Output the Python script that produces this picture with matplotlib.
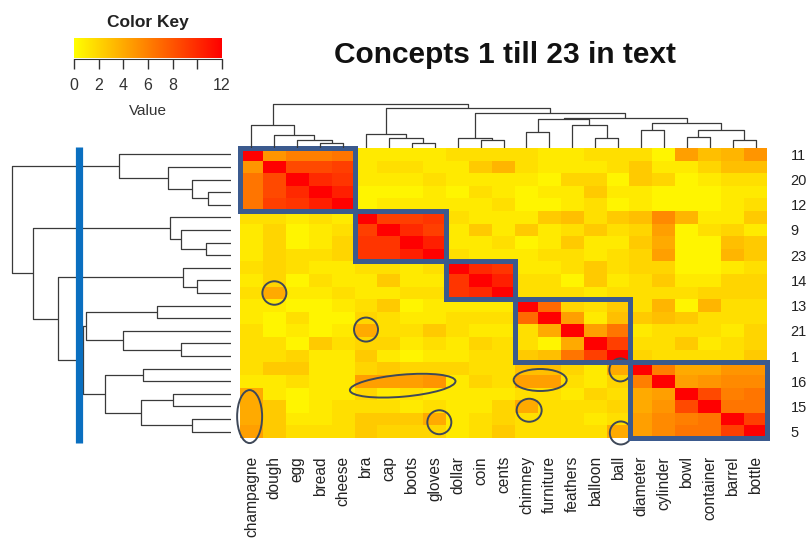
import numpy as np
import matplotlib
matplotlib.use("Agg")
import matplotlib.pyplot as plt
from matplotlib.colors import LinearSegmentedColormap
from matplotlib.patches import Ellipse, Rectangle
from matplotlib import transforms

plt.rcParams['font.family'] = ['Liberation Sans', 'DejaVu Sans']

# column concepts, in dendrogram order
concepts = ["champagne", "dough", "egg", "bread", "cheese",
            "bra", "cap", "boots", "gloves",
            "dollar", "coin", "cents",
            "chimney", "furniture", "feathers", "balloon", "ball",
            "diameter", "cylinder", "bowl", "container", "barrel", "bottle"]

# row labels are only printed on every other row
row_labels = ["11", "20", "12", "9", "23", "14", "13", "21", "1", "16", "15", "5"]

block_sizes = [5, 4, 3, 5, 6]

values = np.array([
    [12, 5, 6, 6, 6.5, 1, 1, 1, 1, 1.5, 1.5, 1.5, 1.5, 1, 1, 1.5, 1.5, 1.5, 0.5, 4.5, 3, 3.5, 5],
    [5, 12, 8.5, 8.5, 9, 1, 1.5, 1.5, 1, 1, 2.5, 3.5, 1.5, 1, 1, 1, 1.5, 2.5, 1, 1, 2, 3, 3],
    [6.5, 8.5, 12, 10, 9.5, 1, 1, 1, 1.5, 1, 1, 1, 1, 0.5, 2, 2, 0.5, 2.5, 2, 0.5, 1, 1.5, 1.5],
    [6.5, 8.5, 10, 12, 10.5, 0.5, 0.5, 0.5, 1, 0.5, 1.5, 1, 0.5, 1, 1, 2.5, 1, 1, 0.5, 0.5, 0.5, 1, 1],
    [6.5, 9, 9.5, 10.5, 12, 0.5, 1, 1, 1, 1, 1, 1.5, 0.5, 0.5, 1, 1.5, 0.5, 1, 0.5, 0.5, 0.5, 1, 1.5],
    [1.5, 1.5, 1, 1.5, 1, 12, 9, 9, 9.5, 1.5, 1, 1, 1, 2.5, 3, 1.5, 2.5, 3, 5.5, 3.5, 1, 1, 2.5],
    [1, 2, 0.5, 1, 1.5, 9, 12, 10, 9, 1, 2.5, 1, 2.5, 1, 1.5, 2.5, 1.5, 2, 4.5, 0.5, 1.5, 2, 1],
    [1, 2, 0.5, 1, 2, 9.5, 9.5, 12, 10.5, 1, 1, 1.5, 0.5, 1, 2.5, 1, 1, 2.5, 4, 0.5, 0.5, 3, 2.5],
    [1, 2, 1.5, 1.5, 2, 9.5, 9.5, 10.5, 12, 1.5, 1, 1, 1, 1.5, 1.5, 1, 1.5, 2, 4.5, 0.5, 0.5, 3.5, 2.5],
    [1.5, 2, 1.5, 1, 1, 1.5, 1.5, 1, 1.5, 12, 10, 9.5, 1, 1, 1.5, 2.5, 1.5, 2, 2, 0.5, 0.5, 1, 1.5],
    [1, 2, 0.5, 1.5, 1, 1, 2.5, 1, 1, 9.5, 12, 10.5, 1.5, 1.5, 0.5, 2.5, 1, 1.5, 2.5, 1, 1, 2, 2],
    [1.5, 4, 1, 1, 1.5, 1, 1, 1.5, 1.5, 9.5, 10, 12, 1.5, 1.5, 1.5, 1, 1.5, 1.5, 1.5, 1.5, 2, 2, 2],
    [1, 1, 0.5, 0.5, 1, 1.5, 2.5, 0.5, 1, 1, 1, 1, 12, 7, 2, 1.5, 2.5, 1.5, 3.5, 0.5, 3.5, 1.5, 1.5],
    [1, 0.5, 1.5, 0.5, 0.5, 2, 1.5, 1, 1, 1.5, 1.5, 1.5, 7, 12, 4.5, 1, 3, 2.5, 3, 2.5, 1.5, 1.5, 1.5],
    [1.5, 0.5, 1, 0.5, 1, 4, 1.5, 1.5, 2.5, 1.5, 1, 1, 1.5, 4, 12, 4.5, 6.5, 1, 1.5, 1.5, 1.5, 1, 2],
    [1.5, 1.5, 0.5, 2.5, 1.5, 2, 2, 1, 1.5, 1, 2, 1.5, 1.5, 0.5, 4, 12, 9, 1.5, 1.5, 2.5, 1, 1.5, 2],
    [1.5, 1.5, 2, 1, 1, 2.5, 1, 0.5, 1, 1, 1.5, 1.5, 2.5, 3, 6.5, 9, 12, 2, 1.5, 1.5, 1.5, 1.5, 2.5],
    [1.5, 2.5, 2.5, 1, 1, 2, 2.5, 2, 2, 2, 1.5, 1.5, 3, 3, 2, 1, 4, 12, 6, 4, 4, 5, 5],
    [1, 1, 1.5, 1, 1, 4.5, 4.5, 4.5, 5, 1, 2, 1.5, 4.5, 4.5, 1.5, 1, 2, 6, 12, 4.5, 5, 5.5, 5.5],
    [4, 1, 0.5, 1, 1, 2, 1, 1.5, 1, 1, 1, 1, 1.5, 1.5, 1, 2, 1.5, 4, 4.5, 12, 8.5, 6, 6.5],
    [4, 2.5, 0.5, 1, 1.5, 1.5, 1.5, 1, 1.5, 1, 1, 2, 4, 1.5, 1.5, 1.5, 2, 4, 5, 8.5, 12, 6.5, 6.5],
    [4, 2.5, 1, 1, 1.5, 2.5, 2.5, 2.5, 4, 1, 1.5, 2, 1.5, 1.5, 1.5, 1, 1.5, 4.5, 5.5, 6, 6.5, 12, 9],
    [4.5, 2.5, 1.5, 1.5, 1.5, 2.5, 2, 2, 2, 1, 1.5, 2.5, 1.5, 1.5, 1.5, 1.5, 4, 4.5, 5.5, 6.5, 6.5, 9, 12],
])

# merges as (left, right, height); ids >= 23 refer to earlier merges
col_merges = [
    (3, 4, 15), (2, 23, 22), (1, 24, 37), (0, 25, 67),
    (7, 8, 15), (6, 27, 30), (5, 28, 40),
    (10, 11, 22), (9, 30, 30),
    (12, 13, 47), (15, 16, 30), (14, 33, 68), (32, 34, 87),
    (17, 18, 54), (19, 20, 32), (21, 22, 22), (37, 38, 54), (36, 39, 75),
    (35, 40, 90), (31, 41, 105), (29, 42, 119), (26, 43, 132),
]
row_merges = [
    (3, 4, 68), (2, 23, 117), (1, 24, 188), (0, 25, 337),
    (7, 8, 76), (6, 27, 150), (5, 28, 183),
    (10, 11, 102), (9, 30, 144),
    (12, 13, 221), (15, 16, 150), (14, 33, 325), (32, 34, 435),
    (17, 18, 265), (19, 20, 174), (21, 22, 116), (37, 38, 269), (36, 39, 377),
    (35, 40, 445), (31, 41, 518), (29, 42, 595), (26, 43, 657),
]
cut_height = 457

key_ticks = [0, 2, 4, 6, 8, 10, 12]
key_labels = ["0", "2", "4", "6", "8", "", "12"]

# highlighted cells: (col centre, row centre, width in, height in, angle)
marks = [
    (1.5, 11.5, 0.24, 0.235, 0),
    (5.5, 14.4, 0.24, 0.24, 0),
    (7.1, 18.85, 1.06, 0.22, 5),
    (0.42, 21.3, 0.25, 0.53, 0),
    (8.7, 21.75, 0.24, 0.24, 0),
    (13.1, 18.4, 0.53, 0.22, 0),
    (12.62, 20.8, 0.25, 0.23, 0),
    (16.6, 17.6, 0.22, 0.23, 0),
    (16.62, 22.6, 0.22, 0.23, 0),
]


def dendro_segments(merges, n):
    pos = {i: i + 0.5 for i in range(n)}
    hgt = {i: 0.0 for i in range(n)}
    segs = []
    for k, (a, b, h) in enumerate(merges):
        segs.append(([pos[a], pos[a], pos[b], pos[b]], [hgt[a], h, h, hgt[b]]))
        pos[n + k] = (pos[a] + pos[b]) / 2
        hgt[n + k] = h
    return segs


W, H = 811, 538
fig = plt.figure(figsize=(W / 100, H / 100), dpi=100)


def px_axes(x0, y0, x1, y1):
    return fig.add_axes([x0 / W, 1 - y1 / H, (x1 - x0) / W, (y1 - y0) / H])


n = len(concepts)
cmap = LinearSegmentedColormap.from_list("yel_red", ["#ffff00", "#ff0000"])
line_col = "#3a3a3a"

# heatmap
ax = px_axes(240, 148, 767, 438)
ax.imshow(values, cmap=cmap, vmin=0, vmax=12, aspect="auto",
          interpolation="nearest", extent=(0, n, n, 0))
ax.set_xlim(0, n)
ax.set_ylim(n, 0)
for s in ax.spines.values():
    s.set_visible(False)
ax.set_xticks(np.arange(n) + 0.5)
ax.set_xticklabels(concepts, rotation=90, fontsize=11.2, va="top", ha="center")
ax.set_yticks(np.arange(0, n, 2) + 0.5)
ax.set_yticklabels(row_labels, fontsize=10.5)
ax.yaxis.tick_right()
ax.tick_params(axis="x", length=0, pad=13, colors="#222222")
ax.tick_params(axis="y", length=0, pad=17, colors="#222222")

start = 0
for size in block_sizes:
    ax.add_patch(Rectangle((start, start), size, size, fill=False,
                           ec="#3b5a8e", lw=3.6, zorder=5, clip_on=False))
    start += size

for xc, yc, w, h, ang in marks:
    tr = fig.dpi_scale_trans + transforms.ScaledTranslation(xc, yc, ax.transData)
    ax.add_patch(Ellipse((0, 0), w, h, angle=ang, transform=tr, fill=False,
                         ec="#3e4858", lw=1.4, zorder=4, clip_on=False))

# column dendrogram
axc = px_axes(240, 101, 767, 147.5)
for xs, ys in dendro_segments(col_merges, n):
    axc.plot(xs, ys, color=line_col, lw=0.9, solid_capstyle="butt")
axc.set_xlim(0, n)
axc.set_ylim(0, 139.5)
axc.axis("off")

# row dendrogram
axr = px_axes(8, 148, 231, 438)
for xs, ys in dendro_segments(row_merges, n):
    axr.plot(ys, xs, color=line_col, lw=0.9, solid_capstyle="butt")
axr.set_xlim(669, 0)
axr.set_ylim(n, 0)
axr.axis("off")
axr.plot([cut_height, cut_height], [-0.08, n + 0.4], color="#0a6fc0", lw=5.2,
         solid_capstyle="butt", clip_on=False, zorder=3)

# colour key
axk = px_axes(74, 37.5, 222, 58.5)
axk.imshow(np.linspace(0, 12, 256)[None, :], cmap=cmap, vmin=0, vmax=12,
           aspect="auto", extent=(0, 12, 0, 1))
for side in ("top", "left", "right"):
    axk.spines[side].set_visible(False)
axk.spines["bottom"].set_linewidth(0.8)
axk.spines["bottom"].set_color("#333333")
axk.set_yticks([])
axk.set_xticks(key_ticks)
axk.set_xticklabels(key_labels, fontsize=11.5)
axk.tick_params(axis="x", length=7, width=1, color="#333333", pad=7, labelcolor="#333333")
fig.text(148 / W, 1 - 22 / H, "Color Key", ha="center", va="center",
         fontsize=12.5, fontweight="bold", color="#222222")
fig.text(148 / W, 1 - 111 / H, "Value", ha="center", va="center",
         fontsize=11, color="#333333")

fig.text(505 / W, 1 - 55 / H, "Concepts 1 till 23 in text", ha="center",
         va="center", fontsize=21.5, fontweight="bold", color="#111111")

fig.savefig("out.png", dpi=100)
